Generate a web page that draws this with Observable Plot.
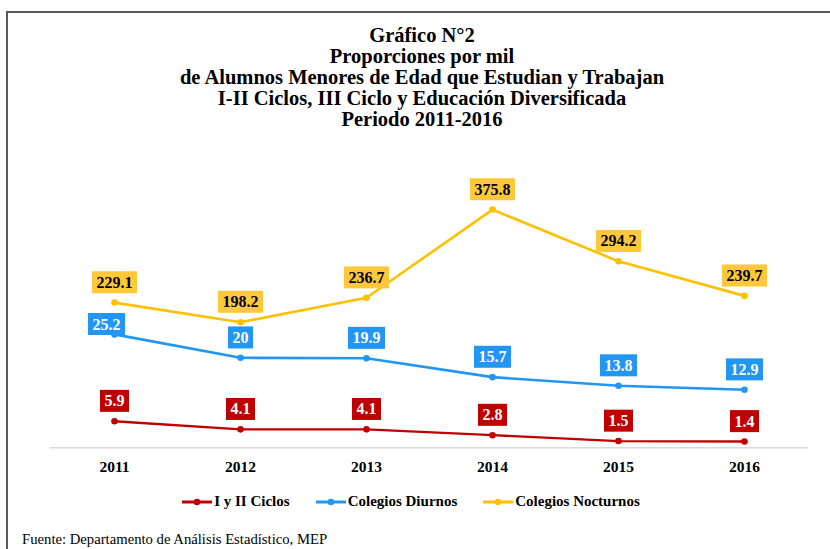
<!DOCTYPE html>
<html>
<head>
<meta charset="utf-8">
<script src="https://cdn.jsdelivr.net/npm/d3@7"></script>
<script src="https://cdn.jsdelivr.net/npm/@observablehq/plot@0.6"></script>
<style>
  html, body { margin: 0; padding: 0; background: #fff; }
  #wrap { position: relative; width: 830px; height: 549px; overflow: hidden; font-family: "Liberation Serif", "Times New Roman", serif; }
  #frame { position: absolute; left: 6px; top: 11px; width: 840px; height: 560px; border-top: 2px solid #595959; border-left: 2px solid #595959; }
  #title { position: absolute; left: 7px; width: 830px; top: 24.5px; text-align: center; font-weight: bold; font-size: 20.5px; line-height: 21.2px; color: #000; }
  #chart { position: absolute; left: 0; top: 0; }
  #legend { position: absolute; left: 0; width: 822px; top: 493px; display: flex; justify-content: center; gap: 26px; font-weight: bold; font-size: 15px; color: #000; }
  #legend .item { display: flex; align-items: center; }
  #legend svg { margin-right: 2px; }
  #caption { position: absolute; left: 22px; top: 531px; font-size: 14.7px; color: #000; }
</style>
</head>
<body>
<div id="wrap">
  <div id="frame"></div>
  <div id="chart"></div>
  <div id="title"></div>
  <div id="legend"></div>
  <div id="caption"></div>
</div>
<script>
// ---- Data ----
const years = ["2011", "2012", "2013", "2014", "2015", "2016"];
const ciclos = [5.9, 4.1, 4.1, 2.8, 1.5, 1.4];          // I y II Ciclos (primary axis)
const diurnos = [25.2, 20, 19.9, 15.7, 13.8, 12.9];     // Colegios Diurnos (primary axis)
const nocturnos = [229.1, 198.2, 236.7, 375.8, 294.2, 239.7]; // Colegios Nocturnos (secondary axis)
const seriesNames = ["I y II Ciclos", "Colegios Diurnos", "Colegios Nocturnos"];
const titleLines = [
  "Gráfico N°2",
  "Proporciones por mil",
  "de Alumnos Menores de Edad que Estudian y Trabajan",
  "I-II Ciclos, III Ciclo y Educación Diversificada",
  "Periodo 2011-2016"
];
const captionText = "Fuente: Departamento de Análisis Estadístico, MEP";

// ---- Axes (Excel-style primary / secondary) ----
const primaryMax = 50;
const secondaryMax = 355;

const colors = ["#C00000", "#2196F3", "#FFC000"];
const boxColors = ["#C00000", "#2196F3", "#FFC83A"];
const textColors = ["#fff", "#fff", "#000"];

const rows = [];
[ciclos, diurnos, nocturnos].forEach((arr, s) => {
  arr.forEach((v, i) => {
    rows.push({
      series: seriesNames[s],
      s,
      i,
      year: years[i],
      value: v,
      yv: s === 2 ? v * primaryMax / secondaryMax : v
    });
  });
});

const marks = [
  Plot.ruleY([0], {stroke: "#d9d9d9", strokeWidth: 1.4})
];
for (let s = 0; s < 3; s++) {
  const d = rows.filter(r => r.s === s);
  marks.push(Plot.line(d, {x: "year", y: "yv", stroke: colors[s], strokeWidth: s === 0 ? 2.3 : 2.6}));
  marks.push(Plot.dot(d, {x: "year", y: "yv", fill: colors[s], r: 3.3}));
}
const labelGroupSeries = [];
for (let s = 0; s < 3; s++) {
  const d = rows.filter(r => r.s === s);
  const normal = d.filter(r => !(r.s === 1 && r.i === 0));
  const moved = d.filter(r => r.s === 1 && r.i === 0);
  marks.push(Plot.text(normal, {x: "year", y: "yv", text: r => String(r.value), dy: -20, fill: textColors[s], fontSize: 16, fontWeight: "bold", lineAnchor: "middle"}));
  labelGroupSeries.push(s);
  if (moved.length) {
    marks.push(Plot.text(moved, {x: "year", y: "yv", text: r => String(r.value), dx: -8, dy: -10, fill: textColors[s], fontSize: 16, fontWeight: "bold", lineAnchor: "middle"}));
    labelGroupSeries.push(s);
  }
}

const chart = Plot.plot({
  width: 830,
  height: 549,
  marginLeft: 49.5,
  marginRight: 22.5,
  marginTop: 222.3,
  marginBottom: 101.7,
  x: {type: "point", domain: years, padding: 0.5, label: null, tickSize: 0, tickPadding: 13},
  y: {domain: [0, primaryMax], axis: null},
  style: {background: "transparent", fontFamily: "Liberation Serif", fontSize: "15.5px", fontWeight: "bold", color: "#000", overflow: "visible"},
  marks
});
document.getElementById("chart").appendChild(chart);

// label boxes behind each data label
const textGroups = chart.querySelectorAll('g[aria-label="text"]');
textGroups.forEach((g, gi) => {
  const s = labelGroupSeries[gi];
  g.querySelectorAll("text").forEach(t => {
    const b = t.getBBox();
    const cy = b.y + b.height / 2;
    const rect = document.createElementNS("http://www.w3.org/2000/svg", "rect");
    rect.setAttribute("x", b.x - 4.5);
    rect.setAttribute("y", cy - 11);
    rect.setAttribute("width", b.width + 9);
    rect.setAttribute("height", 22);
    rect.setAttribute("fill", boxColors[s]);
    const tr = t.getAttribute("transform");
    if (tr) rect.setAttribute("transform", tr);
    t.parentNode.insertBefore(rect, t);
  });
});

// title
document.getElementById("title").innerHTML = titleLines.map(l => `<div>${l}</div>`).join("");

// legend
const leg = document.getElementById("legend");
seriesNames.forEach((n, s) => {
  const it = document.createElement("div");
  it.className = "item";
  it.innerHTML = `<svg width="30" height="10"><line x1="0" x2="30" y1="5" y2="5" stroke="${colors[s]}" stroke-width="3"/><circle cx="15" cy="5" r="3.3" fill="${colors[s]}"/></svg><span>${n}</span>`;
  leg.appendChild(it);
});

document.getElementById("caption").textContent = captionText;
</script>
</body>
</html>
